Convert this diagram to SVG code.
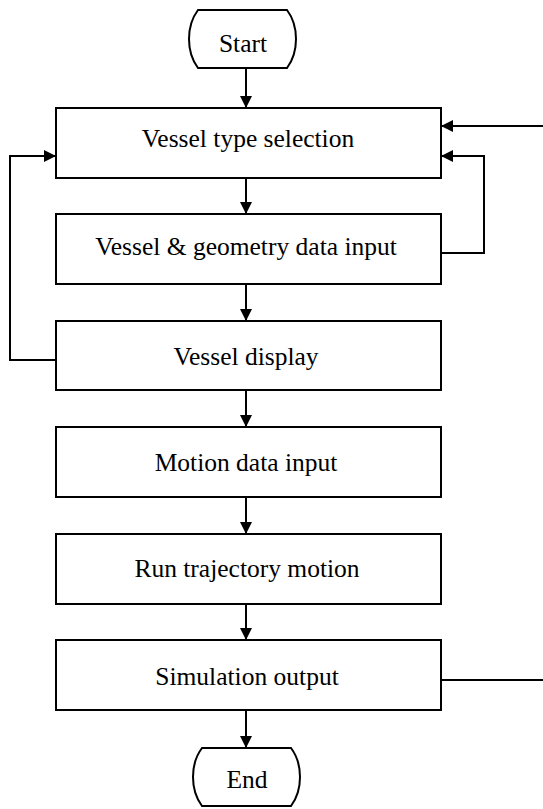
<svg xmlns="http://www.w3.org/2000/svg" width="543" height="809" viewBox="0 0 543 809">
<style>
.box{fill:#fff;stroke:#000;stroke-width:2}
.ln{fill:none;stroke:#000;stroke-width:2}
.t{font-family:'Liberation Serif','DejaVu Serif',serif;font-size:25.5px;fill:#000;text-anchor:middle}
</style>
<defs>
<marker id="ah" markerWidth="12" markerHeight="12" viewBox="0 0 12 12" refX="12" refY="6" orient="auto" markerUnits="userSpaceOnUse">
<path d="M0,0 L12,6 L0,12 Z" fill="#000"/>
</marker>
</defs>
<rect width="543" height="809" fill="#fff"/>
<g id="connectors">
<line class="ln" x1="246" y1="68" x2="246" y2="108" marker-end="url(#ah)"/>
<line class="ln" x1="246" y1="178" x2="246" y2="214" marker-end="url(#ah)"/>
<line class="ln" x1="246" y1="284" x2="246" y2="321" marker-end="url(#ah)"/>
<line class="ln" x1="246" y1="390" x2="246" y2="427" marker-end="url(#ah)"/>
<line class="ln" x1="246" y1="497" x2="246" y2="534" marker-end="url(#ah)"/>
<line class="ln" x1="246" y1="604" x2="246" y2="640" marker-end="url(#ah)"/>
<line class="ln" x1="246" y1="710" x2="246" y2="748" marker-end="url(#ah)"/>
<polyline class="ln" points="56,360 10,360 10,156 56,156" marker-end="url(#ah)"/>
<polyline class="ln" points="439,253 484,253 484,156 441,156" marker-end="url(#ah)"/>
<line class="ln" x1="543" y1="126" x2="441" y2="126" marker-end="url(#ah)"/>
<line class="ln" x1="439" y1="680" x2="543" y2="680"/>
</g>
<g id="start">
<path class="box" d="M198,10 L287,10 Q296,22 296,39 Q296,56 287,68 L198,68 Q189,56 189,39 Q189,22 198,10 Z"/>
<text class="t" x="243" y="52">Start</text>
</g>
<g id="vessel-type">
<rect class="box" x="56" y="108" width="385" height="70"/>
<text class="t" x="248" y="147">Vessel type selection</text>
</g>
<g id="geometry-input">
<rect class="box" x="56" y="214" width="385" height="70"/>
<text class="t" x="246" y="255">Vessel &amp; geometry data input</text>
</g>
<g id="vessel-display">
<rect class="box" x="56" y="321" width="385" height="69"/>
<text class="t" x="246" y="365">Vessel display</text>
</g>
<g id="motion-input">
<rect class="box" x="56" y="427" width="385" height="70"/>
<text class="t" x="246" y="471">Motion data input</text>
</g>
<g id="run-trajectory">
<rect class="box" x="56" y="534" width="385" height="70"/>
<text class="t" x="247" y="577">Run trajectory motion</text>
</g>
<g id="simulation-output">
<rect class="box" x="56" y="640" width="385" height="70"/>
<text class="t" x="247" y="685">Simulation output</text>
</g>
<g id="end">
<path class="box" d="M202,748 L291,748 Q300,760 300,777 Q300,794 291,806 L202,806 Q193,794 193,777 Q193,760 202,748 Z"/>
<text class="t" x="247" y="788">End</text>
</g>
</svg>
